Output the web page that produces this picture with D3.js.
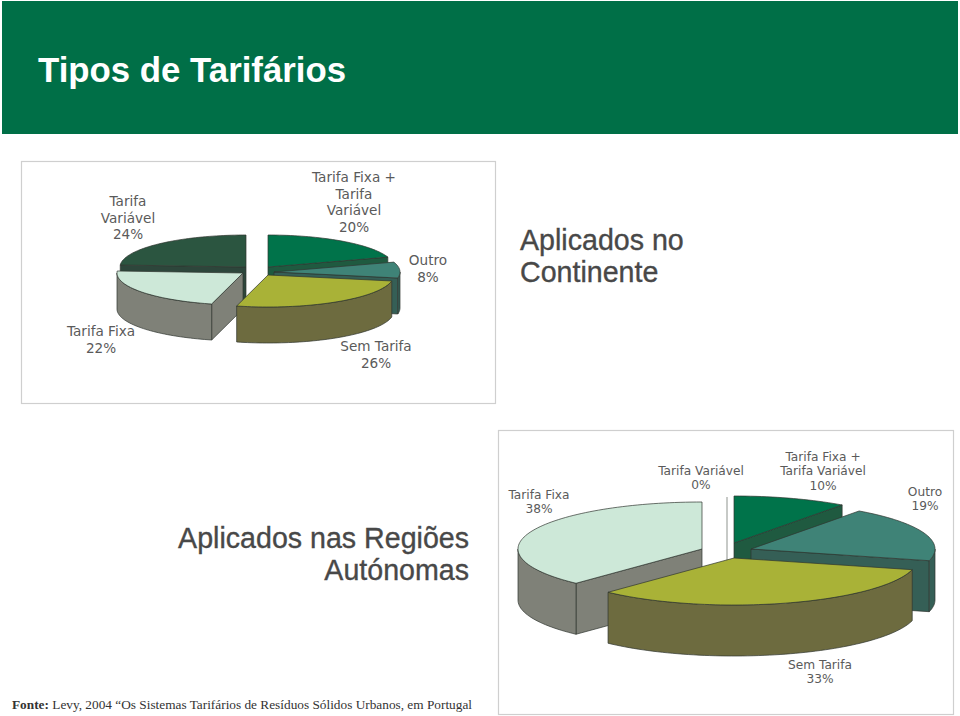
<!DOCTYPE html>
<html lang="pt">
<head>
<meta charset="utf-8">
<title>Tipos de Tarifários</title>
<script src="https://cdn.jsdelivr.net/npm/d3@7/dist/d3.min.js"></script>
<style>
html,body{margin:0;padding:0;background:#fff;overflow:hidden}
svg{display:block}
.lbl{font-family:"DejaVu Sans",sans-serif;fill:#5a5a5a;text-anchor:middle}
.head{font-family:"Liberation Sans",Arial,sans-serif;font-size:28.6px;fill:#484848;stroke:#484848;stroke-width:.35px}
</style>
</head>
<body>
<svg id="c" width="960" height="716" viewBox="0 0 960 716"></svg>
<script>
// ---- data ----
const categories = ["Tarifa Fixa + Tarifa Variável", "Outro", "Sem Tarifa", "Tarifa Fixa", "Tarifa Variável"];
const continenteValues = [20, 8, 26, 22, 24];
const regioesValues = [10, 19, 33, 38, 0];

const title = "Tipos de Tarifários";
const continenteTitle = ["Aplicados no", "Continente"];
const regioesTitle = ["Aplicados nas Regiões", "Autónomas"];
const sourceBold = "Fonte:";
const sourceText = " Levy, 2004 “Os Sistemas Tarifários de Resíduos Sólidos Urbanos, em Portugal";

// ---- styling and layout ----
const topColors  = ["#00734a", "#3f8377", "#a9b237", "#cde8d8", "#2b5540"];
const wallColors = ["#1f5a40", "#355f56", "#6d6b3f", "#7f8178", "#2d463b"];
const drawOrder  = [4, 0, 1, 3, 2];   // painter's order, back to front

const continenteLayout = {
  rx: 126, ry: 32, depth: 36, fontSize: 13.6, lineHeight: 16.5,
  apex: [[268,267],[274,272],[268,275],[243,273],[246,267]],
  labels: [
    {x:354, y:182, lines:["Tarifa Fixa +","Tarifa","Variável"]},
    {x:428, y:265, lines:["Outro"]},
    {x:376, y:351, lines:["Sem Tarifa"]},
    {x:101, y:336, lines:["Tarifa Fixa"]},
    {x:128, y:206, lines:["Tarifa","Variável"]}
  ]
};
const regioesLayout = {
  rx: 184, ry: 47, depth: 51, fontSize: 12.2, lineHeight: 14.3,
  apex: [[734,543],[751,549],[734,558],[702,549],[727,544]],
  labels: [
    {x:823, y:461, lines:["Tarifa Fixa +","Tarifa Variável"]},
    {x:925, y:496, lines:["Outro"]},
    {x:820, y:669, lines:["Sem Tarifa"]},
    {x:539, y:499, lines:["Tarifa Fixa"]},
    {x:701, y:475, lines:["Tarifa Variável"]}
  ]
};

const svg = d3.select("#c");
const pie = d3.pie().sort(null).value(d => d);
const line = d3.line();

svg.append("rect").attr("x",2).attr("y",1).attr("width",956).attr("height",133).attr("fill","#006f47");
svg.append("text").attr("x",38).attr("y",82)
  .style("font-family",'"Liberation Sans",Arial,sans-serif').style("font-size","34.8px").style("font-weight","bold")
  .attr("fill","#fff").text(title);

function frame(x,y,w,h){
  svg.append("rect").attr("x",x+.5).attr("y",y+.5).attr("width",w).attr("height",h)
    .attr("fill","#fff").attr("stroke","#cfcfcf").attr("stroke-width",1.2);
}
frame(21,161,474,242);
frame(498,430,455,284);

function drawPie(values, L){
  const arcs = pie(values);
  const total = d3.sum(values);
  const rimPoint = (c,a) => [c[0] + L.rx*Math.sin(a), c[1] - L.ry*Math.cos(a)];
  const down = p => [p[0], p[1] + L.depth];
  const sample = (a0,a1) => {
    const n = Math.max(1, Math.ceil(Math.abs(a1-a0)/0.03));
    return d3.range(n+1).map(i => a0 + (a1-a0)*i/n);
  };
  const g = svg.append("g").attr("stroke","#2f352f").attr("stroke-width",0.7).attr("stroke-linejoin","round");

  drawOrder.forEach(i => {
    const d = arcs[i], c = L.apex[i], a0 = d.startAngle, a1 = d.endAngle;
    if (a1 - a0 < 1e-6) {
      // an empty slice is only a thin vertical sliver
      const r = rimPoint(c,a0);
      g.append("path").attr("d", line([r, down(c)])).attr("fill","none").attr("stroke","#8f948f").attr("stroke-width",1);
      return;
    }
    const cut = a => {
      const r = rimPoint(c,a);
      g.append("path").attr("d", line([c, r, down(r), down(c)]) + "Z").attr("fill", wallColors[i]);
    };
    // walls of the radial cuts that face the viewer
    if (Math.sin(a0) < -1e-6) cut(a0);
    if (Math.sin(a1) >  1e-6) cut(a1);
    // outer rim: only the part on the front half of the ellipse
    const f0 = Math.max(a0, Math.PI/2), f1 = Math.min(a1, Math.PI*1.5);
    if (f1 > f0) {
      const upper = sample(f0,f1).map(a => rimPoint(c,a));
      const lower = upper.slice().reverse().map(down);
      g.append("path").attr("d", line(upper.concat(lower)) + "Z").attr("fill", wallColors[i]);
    }
    // top face
    const rim = sample(a0,a1).map(a => rimPoint(c,a));
    g.append("path").attr("d", line([c].concat(rim)) + "Z").attr("fill", topColors[i]);
  });

  L.labels.forEach((lb,i) => {
    const t = svg.append("text").attr("class","lbl").style("font-size", L.fontSize + "px");
    lb.lines.concat([Math.round(values[i]/total*100) + "%"]).forEach((s,k) => {
      t.append("tspan").attr("x",lb.x).attr("y",lb.y + k*L.lineHeight).text(s);
    });
  });
}
drawPie(continenteValues, continenteLayout);
drawPie(regioesValues, regioesLayout);

function heading(lines,x,y,anchor){
  const t = svg.append("text").attr("class","head").attr("text-anchor",anchor);
  lines.forEach((s,k)=> t.append("tspan").attr("x",x).attr("y",y+k*32).text(s));
}
heading(continenteTitle,520,250,"start");
heading(regioesTitle,469,548,"end");

const src = svg.append("text").attr("x",12).attr("y",709)
  .style("font-family",'"Liberation Serif","Times New Roman",serif').style("font-size","13.3px").attr("fill","#333");
src.append("tspan").style("font-weight","bold").text(sourceBold);
src.append("tspan").text(sourceText);
</script>
</body>
</html>
